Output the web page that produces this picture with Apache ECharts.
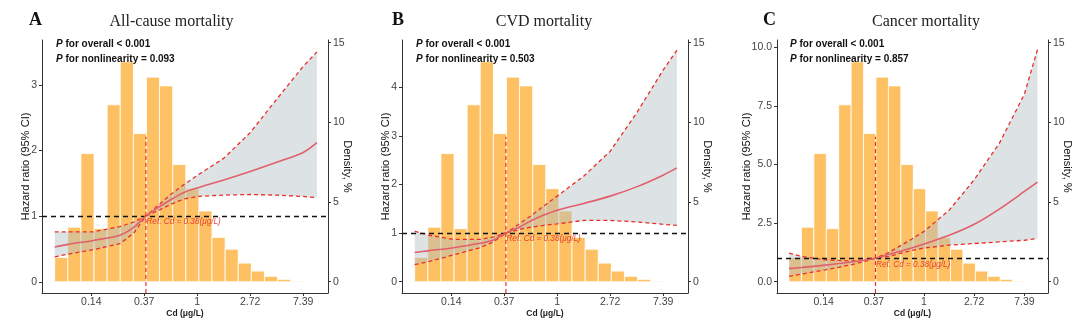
<!DOCTYPE html>
<html><head><meta charset="utf-8">
<script src="https://cdn.jsdelivr.net/npm/echarts@6/dist/echarts.min.js"></script>
<style>html,body{margin:0;padding:0;background:#fff}#c{width:1080px;height:327px}</style>
</head><body><div id="c"></div>
<script>
// ---------- data ----------
const xTickValues = [-2, -1, 0, 1, 2];            // ln(Cd)
const xTickLabels = ['0.14', '0.37', '1', '2.72', '7.39'];
const refCd = 0.38;
const refLabel = 'Ref. Cd = 0.38(μg/L)';
const histStartLn = -2.69;
const histBinWidthLn = 0.2475;
const density = [1.52, 3.42, 8.04, 3.33, 11.1, 13.8, 9.3, 12.84, 12.29, 7.35, 5.84, 4.44, 2.78, 2.04, 1.17, 0.67, 0.34, 0.15, 0.04, 0.02];
const densityTicks = [0, 5, 10, 15];
const refLineTopDensity = 9.1;

const curveX = [-2.69, -2.44, -1.96, -1.46, -1.2, -0.97, -0.7, -0.5, -0.25, 0, 0.5, 1.0, 1.5, 2.0, 2.26];
const hrA = [0.53, 0.57, 0.63, 0.71, 0.83, 1.0, 1.15, 1.25, 1.36, 1.43, 1.55, 1.68, 1.82, 1.97, 2.12];
const upA = [0.76, 0.76, 0.76, 0.84, 0.91, 1.0, 1.19, 1.33, 1.48, 1.62, 1.88, 2.27, 2.78, 3.28, 3.5];
const loA = [0.38, 0.42, 0.49, 0.58, 0.74, 1.0, 1.10, 1.18, 1.26, 1.30, 1.32, 1.33, 1.32, 1.30, 1.28];
const hrB = [0.60, 0.635, 0.70, 0.79, 0.86, 1.0, 1.13, 1.25, 1.37, 1.47, 1.61, 1.76, 1.95, 2.19, 2.34];
const upB = [1.04, 0.96, 0.87, 0.87, 0.92, 1.0, 1.2, 1.35, 1.56, 1.76, 2.17, 2.68, 3.47, 4.35, 4.76];
const loB = [0.35, 0.41, 0.55, 0.70, 0.82, 1.0, 1.08, 1.12, 1.16, 1.19, 1.26, 1.26, 1.23, 1.18, 1.16];
const hrC = [0.56, 0.61, 0.71, 0.84, 0.92, 1.0, 1.17, 1.29, 1.44, 1.61, 1.98, 2.45, 3.1, 3.85, 4.25];
const upC = [1.22, 1.08, 0.93, 0.89, 0.93, 1.0, 1.25, 1.5, 1.81, 2.15, 3.05, 4.35, 5.9, 8.0, 9.9];
const loC = [0.23, 0.33, 0.51, 0.72, 0.86, 1.0, 1.08, 1.2, 1.33, 1.44, 1.56, 1.63, 1.70, 1.77, 1.84];

const hrTicksA = [0, 1, 2, 3];
const hrTicksB = [0, 1, 2, 3, 4];
const hrTicksC = [0, 2.5, 5, 7.5, 10];

const panelLetters = ['A', 'B', 'C'];
const panelTitles = ['All-cause mortality', 'CVD mortality', 'Cancer mortality'];
const pOverall = ['< 0.001', '< 0.001', '< 0.001'];
const pNonlin = ['= 0.093', '= 0.503', '= 0.857'];

// ---------- layout ----------
const SANS = 'Liberation Sans, Arial, sans-serif';
const SERIF = 'Liberation Serif, Times New Roman, serif';
const grids = [
  { left: 42, top: 40, width: 286, height: 253 },
  { left: 402, top: 40, width: 286, height: 253 },
  { left: 777, top: 40, width: 271, height: 253 }
];
const xRange = [-2.93, 2.47];
const densRange = [-0.706, 15.17];
const hrRanges = [[-0.171, 3.683], [-0.232, 4.97], [-0.48, 10.31]];
const letterX = [29, 392, 763];
const titleCX = [171.5, 544, 926];
const pTextX = [56, 416, 790];
const yNameGap = [11, 11, 25];

const panels = [
  { hr: hrA, up: upA, lo: loA, ticks: hrTicksA, fmt: v => String(v) },
  { hr: hrB, up: upB, lo: loB, ticks: hrTicksB, fmt: v => String(v) },
  { hr: hrC, up: upC, lo: loC, ticks: hrTicksC, fmt: v => v.toFixed(1) }
];

const AXIS_COLOR = '#333';
const LABEL_COLOR = '#444';
const BAR_COLOR = '#FDC063';
const RIBBON = 'rgba(180,190,198,0.45)';
const HR_COLOR = '#E0606C';
const CI_COLOR = '#E8302A';
const REF_TEXT_COLOR = '#E0201C';

const xAxes = [], yAxes = [], series = [], titles = [];
const lnRef = Math.log(refCd);

panels.forEach((p, i) => {
  xAxes.push({
    type: 'value', gridIndex: i, min: xRange[0], max: xRange[1],
    axisLine: { show: true, onZero: false, lineStyle: { color: AXIS_COLOR, width: 1 } },
    axisTick: { show: true, length: 3, customValues: xTickValues, lineStyle: { color: AXIS_COLOR } },
    axisLabel: { customValues: xTickValues, margin: 4, fontSize: 10.5, color: LABEL_COLOR, fontFamily: SANS,
      formatter: v => { const k = xTickValues.findIndex(t => Math.abs(t - v) < 1e-6); return k >= 0 ? xTickLabels[k] : ''; } },
    splitLine: { show: false },
    name: 'Cd (μg/L)', nameLocation: 'middle', nameGap: 16, nameMoveOverlap: false,
    nameTextStyle: { fontFamily: SANS, fontWeight: 'bold', fontSize: 8.5, color: '#222' }
  });
  yAxes.push({
    type: 'value', gridIndex: i, position: 'left', min: hrRanges[i][0], max: hrRanges[i][1],
    axisLine: { show: true, onZero: false, lineStyle: { color: AXIS_COLOR, width: 1 } },
    axisTick: { show: true, length: 3, customValues: p.ticks, lineStyle: { color: AXIS_COLOR } },
    axisLabel: { customValues: p.ticks, margin: 5, fontSize: 10.5, color: LABEL_COLOR, fontFamily: SANS, formatter: p.fmt },
    splitLine: { show: false },
    name: 'Hazard ratio (95% CI)', nameLocation: 'middle', nameRotate: 90, nameGap: yNameGap[i], nameMoveOverlap: false,
    nameTextStyle: { fontFamily: SANS, fontSize: 11.2, color: '#111' }
  });
  yAxes.push({
    type: 'value', gridIndex: i, position: 'right', min: densRange[0], max: densRange[1],
    axisLine: { show: true, onZero: false, lineStyle: { color: AXIS_COLOR, width: 1 } },
    axisTick: { show: true, length: 3, customValues: densityTicks, lineStyle: { color: AXIS_COLOR } },
    axisLabel: { customValues: densityTicks, margin: 5, fontSize: 10.5, color: LABEL_COLOR, fontFamily: SANS },
    splitLine: { show: false },
    name: 'Density, %', nameLocation: 'middle', nameRotate: -90, nameGap: 14, nameMoveOverlap: false,
    nameTextStyle: { fontFamily: SANS, fontSize: 11.2, color: '#111' }
  });
  const hrAxis = 2 * i, densAxis = 2 * i + 1;

  // histogram
  series.push({
    type: 'custom', xAxisIndex: i, yAxisIndex: densAxis, z: 1,
    data: density.map((d, k) => [histStartLn + k * histBinWidthLn, histStartLn + (k + 1) * histBinWidthLn, d]),
    encode: { x: [0, 1], y: 2 },
    renderItem: (params, api) => {
      const p0 = api.coord([api.value(0), api.value(2)]);
      const p1 = api.coord([api.value(1), 0]);
      return { type: 'rect', shape: { x: p0[0], y: p0[1], width: p1[0] - p0[0], height: p1[1] - p0[1] },
        style: { fill: BAR_COLOR, stroke: '#fff', lineWidth: 0.8 } };
    }
  });
  // ribbon
  series.push({
    type: 'custom', xAxisIndex: i, yAxisIndex: hrAxis, z: 2,
    data: [[curveX[0], p.up[0]]], encode: { x: 0, y: 1 },
    renderItem: (params, api) => {
      const pts = [];
      for (let k = 0; k < curveX.length; k++) pts.push(api.coord([curveX[k], p.up[k]]));
      for (let k = curveX.length - 1; k >= 0; k--) pts.push(api.coord([curveX[k], p.lo[k]]));
      return { type: 'polygon', shape: { points: pts }, style: { fill: RIBBON } };
    }
  });
  // CI lines
  [p.up, p.lo].forEach((arr, j) => {
    const s = {
      type: 'line', xAxisIndex: i, yAxisIndex: hrAxis, z: 4, symbol: 'none', smooth: false,
      data: curveX.map((x, k) => [x, arr[k]]),
      lineStyle: { color: CI_COLOR, width: 1.3, type: [4, 3] }
    };
    if (j === 1) {
      s.markLine = { silent: true, symbol: ['none', 'none'], label: { show: false },
        lineStyle: { color: '#111', type: [5, 4], width: 1.4 }, data: [{ yAxis: 1 }] };
    }
    series.push(s);
  });
  // HR line
  series.push({
    type: 'line', xAxisIndex: i, yAxisIndex: hrAxis, z: 5, symbol: 'none', smooth: 0.3,
    data: curveX.map((x, k) => [x, p.hr[k]]),
    lineStyle: { color: HR_COLOR, width: 1.6 }
  });
  // vertical reference line
  series.push({
    type: 'line', xAxisIndex: i, yAxisIndex: densAxis, z: 5, symbol: 'none',
    data: [[lnRef, densRange[0]], [lnRef, refLineTopDensity]],
    lineStyle: { color: CI_COLOR, width: 1.2, type: [4, 3] }
  });
  // ref label
  series.push({
    type: 'scatter', xAxisIndex: i, yAxisIndex: hrAxis, z: 6, symbolSize: 1,
    itemStyle: { color: 'rgba(0,0,0,0)' },
    data: [[lnRef, 1]],
    label: { show: true, position: 'right', distance: 0, offset: [0, 6], formatter: refLabel,
      fontFamily: SANS, fontStyle: 'italic', fontSize: 8.2, color: REF_TEXT_COLOR }
  });

  titles.push({ text: panelLetters[i], left: letterX[i], top: 11, padding: 0,
    textStyle: { fontFamily: SERIF, fontWeight: 'bold', fontSize: 18, color: '#111' } });
  titles.push({ text: panelTitles[i], left: titleCX[i], textAlign: 'center', top: 14, padding: 0,
    textStyle: { fontFamily: SERIF, fontWeight: 'normal', fontSize: 16, color: '#222' } });
  const rich = {
    i: { fontFamily: SANS, fontStyle: 'italic', fontWeight: 'bold', fontSize: 10, color: '#111' },
    b: { fontFamily: SANS, fontWeight: 'bold', fontSize: 10, color: '#111' }
  };
  titles.push({ text: '{i|P}{b| for overall ' + pOverall[i] + '}', left: pTextX[i], top: 39.5, padding: 0,
    textStyle: { rich } });
  titles.push({ text: '{i|P}{b| for nonlinearity ' + pNonlin[i] + '}', left: pTextX[i], top: 54, padding: 0,
    textStyle: { rich } });
});

const chart = echarts.init(document.getElementById('c'), null, { renderer: 'canvas' });
chart.setOption({
  animation: false,
  backgroundColor: '#fff',
  title: titles,
  grid: grids,
  xAxis: xAxes,
  yAxis: yAxes,
  series
});
</script></body></html>
